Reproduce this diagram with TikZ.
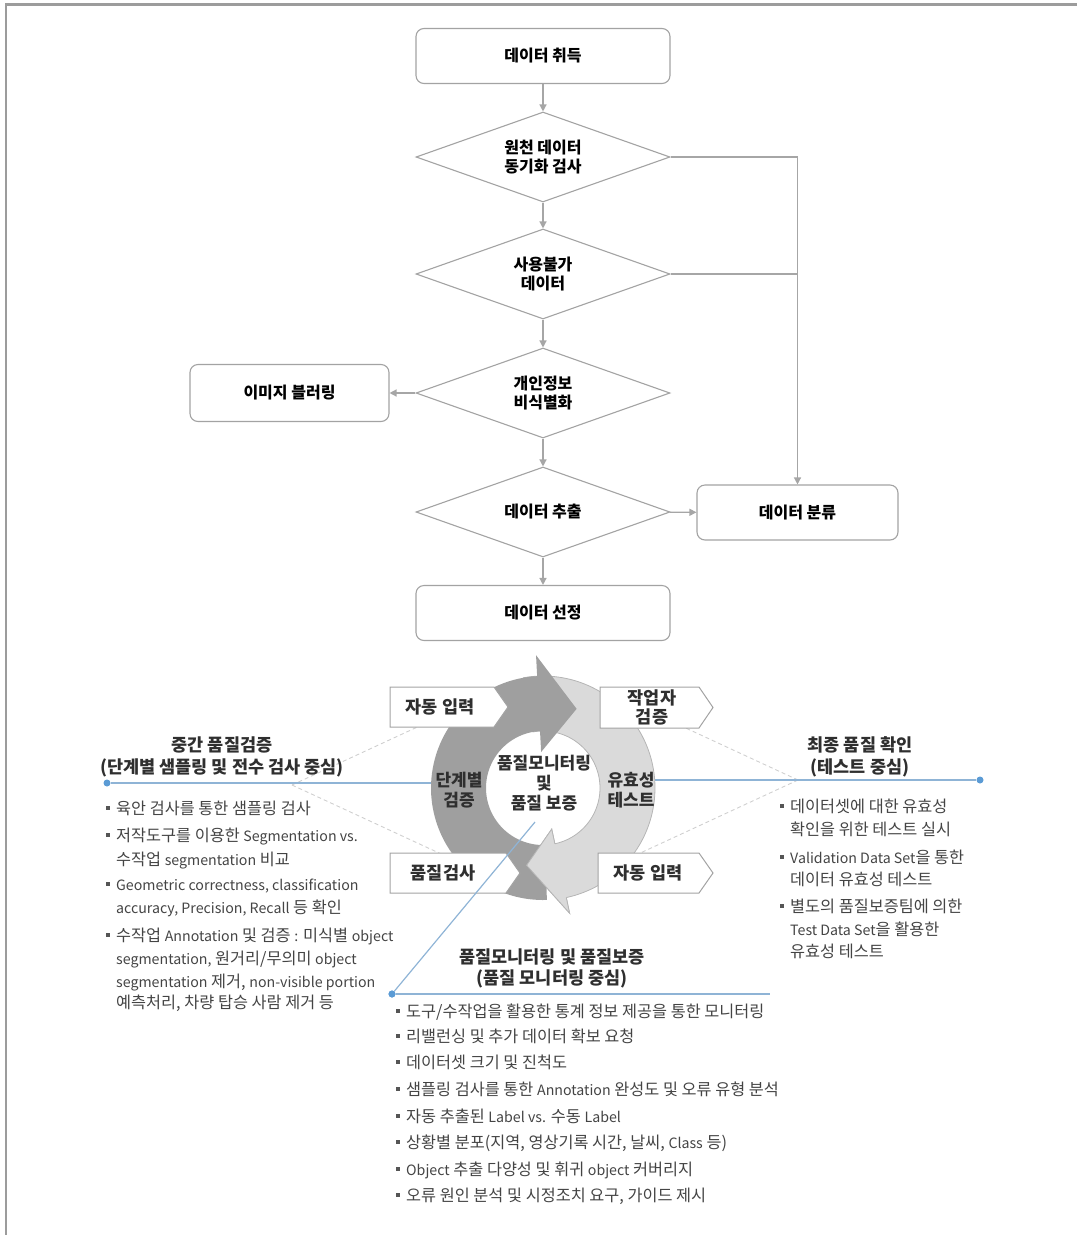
\documentclass[tikz,border=0pt]{standalone}
\usepackage{fontspec}
\setmainfont{Noto Sans CJK KR}
\usetikzlibrary{arrows.meta,shapes.geometric}
\definecolor{lineg}{HTML}{A6A6A6}
\definecolor{boxg}{HTML}{A3A3A3}
\definecolor{frameg}{HTML}{9C9C9C}
\definecolor{darkring}{HTML}{9F9F9F}
\definecolor{lightring}{HTML}{DADADA}
\definecolor{lightedge}{HTML}{B5B5B5}
\definecolor{blueline}{HTML}{8FB4D6}
\definecolor{bluedot}{HTML}{5B9BD5}
\definecolor{dashg}{HTML}{CFCFCF}
\definecolor{txt}{HTML}{444444}
\definecolor{headc}{HTML}{2F2F2F}
\definecolor{bulc}{HTML}{555555}
\newcommand\mybul[2]{\fill[bulc] (#1-2.2,#2-2.2) rectangle (#1+2.2,#2+2.2);}
\newcommand\latn[1]{{\fontsize{14.2}{17}\selectfont #1}}
\begin{document}
\begin{tikzpicture}[x=1pt,y=-1pt,
  fbox/.style={draw=boxg, line width=1.1pt, rounded corners=8pt, fill=white, minimum width=254pt, minimum height=55pt, inner sep=0pt, align=center, font=\bfseries\fontsize{16}{19}\selectfont},
  fdia/.style={draw=boxg, line width=1.1pt, diamond, aspect=2.82, fill=white, minimum width=254pt, minimum height=90pt, inner sep=0pt, align=center, font=\bfseries\fontsize{16}{19}\selectfont},
  arr/.style={draw=lineg, line width=1.3pt, -{Triangle[length=7pt,width=7pt]}},
  ln/.style={draw=lineg, line width=1.3pt},
  pent/.style={draw=boxg, line width=1pt, fill=white},
  ptxt/.style={font=\bfseries\fontsize{17.5}{19}\selectfont, text=headc, align=center, inner sep=0pt},
  rtxt/.style={font=\bfseries\fontsize{17}{20}\selectfont, text=headc, align=center, inner sep=0pt},
  htxt/.style={font=\bfseries\fontsize{17.5}{19}\selectfont, text=headc, inner sep=0pt, text height=15pt, text depth=2pt},
  btxt/.style={font=\fontsize{16.3}{17}\selectfont, text=txt, inner sep=0pt, anchor=west, text height=14pt, text depth=2pt},
  bl/.style={draw=blueline, line width=1.2pt},
  dot/.style={circle, fill=bluedot, inner sep=0pt, minimum size=7pt},
  dsh/.style={draw=dashg, line width=0.9pt, dash pattern=on 4pt off 3pt},
]
\useasboundingbox (0,0) rectangle (1077,1235);
% frame
\draw[frameg, line width=2.5pt] (6,1235) -- (6,4.5) -- (1077,4.5);

% ---------------- flowchart ----------------
\node[fbox] (acq) at (543,56) {데이터 취득};
\node[fdia] (d1) at (543,157) {원천 데이터\\동기화 검사};
\node[fdia] (d2) at (543,274) {사용불가\\데이터};
\node[fdia] (d3) at (543,393) {개인정보\\비식별화};
\node[fdia] (d4) at (543,512) {데이터 추출};
\node[fbox] (sel) at (543,613) {데이터 선정};
\node[fbox, minimum width=199pt, minimum height=57pt] (blur) at (289.5,393) {이미지 블러링};
\node[fbox, minimum width=201pt] (cls) at (797.5,512.5) {데이터 분류};
\draw[arr] (acq) -- (d1);
\draw[arr] (d1) -- (d2);
\draw[arr] (d2) -- (d3);
\draw[arr] (d3) -- (d4);
\draw[arr] (d4) -- (sel);
\draw[arr] (d3) -- (blur);
\draw[arr] (d4) -- (cls);
\draw[arr] (d1.east) -| (cls.north);
\draw[ln] (d2.east) -- (d2.east -| cls.north);

% ---------------- cycle diagram ----------------
\coordinate (dsL) at (292,785);
\coordinate (dsLa) at (452,711);
\coordinate (dsLb) at (452,859);
\coordinate (dsR) at (798,780);
\coordinate (dsRa) at (636,705);
\coordinate (dsRb) at (636,855);
\draw[dsh] (dsL) -- (dsLa);
\draw[dsh] (dsL) -- (dsLb);
\draw[dsh] (dsR) -- (dsRa);
\draw[dsh] (dsR) -- (dsRb);

\node[dot] (dL) at (107,783) {};
\node[dot] (dR) at (980,780) {};
\node[dot] (dB) at (392,994) {};
\coordinate (cL) at (431,783);
\coordinate (cR) at (655,780);
\coordinate (cB) at (535,822);
\coordinate (hB) at (770,994);
\draw[bl] (dL) -- (cL);
\draw[bl] (cR) -- (dR);
\draw[bl] (dB) -- (hB);

% light arrow (right half)
\filldraw[fill=lightring, draw=lightedge, line width=0.8pt]
  plot[domain=-100:78, samples=80] ({543+112*cos(\x)},{788+112*sin(\x)})
  -- ({543+128*cos(78)},{788+128*sin(78)})
  -- ({543+79*cos(102)},{788+79*sin(102)})
  -- ({543+42*cos(78)},{788+42*sin(78)})
  -- plot[domain=78:-100, samples=80] ({543+57*cos(\x)},{788+57*sin(\x)})
  -- cycle;
% dark arrow (left half)
\fill[darkring]
  plot[domain=88:267, samples=80] ({543+112*cos(\x)},{788+112*sin(\x)})
  -- ({543+133*cos(267)},{788+133*sin(267)})
  -- ({543+86*cos(293)},{788+86*sin(293)})
  -- ({543+36*cos(267)},{788+36*sin(267)})
  -- plot[domain=267:88, samples=80] ({543+57*cos(\x)},{788+57*sin(\x)})
  -- cycle;
% light arrow head on top
\fill[lightring] ({543+128*cos(78)},{788+128*sin(78)})
  -- ({543+79*cos(102)},{788+79*sin(102)})
  -- ({543+42*cos(78)},{788+42*sin(78)}) -- cycle;
\draw[lightedge, line width=0.8pt] ({543+112*cos(78)},{788+112*sin(78)})
  -- ({543+128*cos(78)},{788+128*sin(78)})
  -- ({543+79*cos(102)},{788+79*sin(102)})
  -- ({543+42*cos(78)},{788+42*sin(78)})
  -- ({543+57*cos(78)},{788+57*sin(78)});

\node[rtxt] (stage) at (459,790) {단계별\\검증};
\node[rtxt] (valid) at (631,790) {유효성\\테스트};
\node[rtxt] (center) at (544,783) {품질모니터링\\및\\품질 보증};

% pentagon labels
\path[pent] (390,687) -- (494,687) -- (508,707) -- (494,727) -- (390,727) -- cycle;
\node[ptxt] (p1) at (440,707) {자동 입력};
\path[pent] (600,687) -- (699,687) -- (713,707.5) -- (699,728) -- (600,728) -- cycle;
\node[ptxt] (p2) at (652,707.5) {작업자\\검증};
\path[pent] (390,853) -- (506,853) -- (520,873) -- (506,893) -- (390,893) -- cycle;
\node[ptxt] (p3) at (443,873) {품질검사};
\path[pent] (598,853) -- (699,853) -- (713,873) -- (699,893) -- (598,893) -- cycle;
\node[ptxt] (p4) at (648,873) {자동 입력};

\draw[bl] (dB) -- (cB);
\node[dot] at (dB) {};

% ---------------- headings ----------------
\node[htxt] (hl1) at (222,745) {중간 품질검증};
\node[htxt] (hl2) at (222,767) {(단계별 샘플링 및 전수 검사 중심)};
\node[htxt] (hr1) at (860,745) {최종 품질 확인};
\node[htxt] (hr2) at (860,767) {(테스트 중심)};
\node[htxt] (hb1) at (552,957) {품질모니터링 및 품질보증};
\node[htxt] (hb2) at (552,978) {(품질 모니터링 중심)};

% ---------------- left bullets ----------------
\mybul{108}{808}\node[btxt] (l1) at (116,808) {육안 검사를 통한 샘플링 검사};
\mybul{108}{835}\node[btxt] (l2) at (116,835) {저작도구를 이용한 \latn{Segmentation vs.}};
\node[btxt] (l3) at (116,859) {수작업 \latn{segmentation} 비교};
\mybul{108}{884}\node[btxt] (l4) at (116,884) {\latn{Geometric correctness, classification}};
\node[btxt] (l5) at (116,907) {\latn{accuracy, Precision, Recall} 등 확인};
\mybul{108}{935}\node[btxt] (l6) at (116,935) {수작업 \latn{Annotation} 및 검증 \latn{:} 미식별 \latn{object}};
\node[btxt] (l7) at (116,958) {\latn{segmentation,} 원거리/무의미 \latn{object}};
\node[btxt] (l8) at (116,981) {\latn{segmentation} 제거, \latn{non-visible portion}};
\node[btxt] (l9) at (116,1002) {예측처리, 차량 탑승 사람 제거 등};

% ---------------- right bullets ----------------
\mybul{782}{806}\node[btxt] (r1) at (790,806) {데이터셋에 대한 유효성};
\node[btxt] (r2) at (790,829) {확인을 위한 테스트 실시};
\mybul{782}{857}\node[btxt] (r3) at (790,857) {\latn{Validation Data Set}을 통한};
\node[btxt] (r4) at (790,879) {데이터 유효성 테스트};
\mybul{782}{906}\node[btxt] (r5) at (790,906) {별도의 품질보증팀에 의한};
\node[btxt] (r6) at (790,929) {\latn{Test Data Set}을 활용한};
\node[btxt] (r7) at (790,951) {유효성 테스트};

% ---------------- bottom bullets ----------------
\mybul{398}{1011}\node[btxt] (b1) at (406,1011) {도구/수작업을 활용한 통계 정보 제공을 통한 모니터링};
\mybul{398}{1036}\node[btxt] (b2) at (406,1036) {리밸런싱 및 추가 데이터 확보 요청};
\mybul{398}{1062}\node[btxt] (b3) at (406,1062) {데이터셋 크기 및 진척도};
\mybul{398}{1089}\node[btxt] (b4) at (406,1089) {샘플링 검사를 통한 \latn{Annotation} 완성도 및 오류 유형 분석};
\mybul{398}{1116}\node[btxt] (b5) at (406,1116) {자동 추출된 \latn{Label vs.} 수동 \latn{Label}};
\mybul{398}{1142}\node[btxt] (b6) at (406,1142) {상황별 분포(지역, 영상기록 시간, 날씨, \latn{Class} 등)};
\mybul{398}{1169}\node[btxt] (b7) at (406,1169) {\latn{Object} 추출 다양성 및 휘귀 \latn{object} 커버리지};
\mybul{398}{1195}\node[btxt] (b8) at (406,1195) {오류 원인 분석 및 시정조치 요구, 가이드 제시};
\end{tikzpicture}
\end{document}
